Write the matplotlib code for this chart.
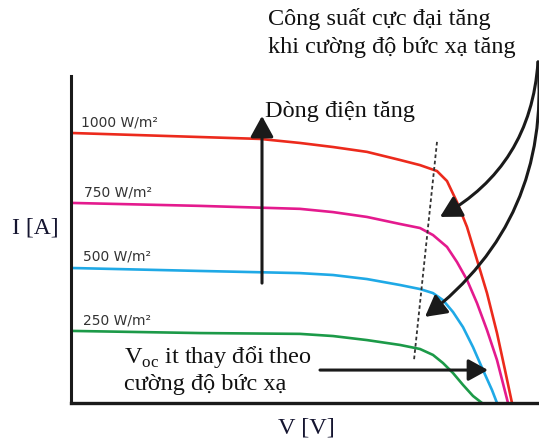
import matplotlib
matplotlib.use('Agg')
import matplotlib.pyplot as plt

plt.rcParams['font.family'] = ['Liberation Serif', 'DejaVu Serif']
plt.rcParams['mathtext.fontset'] = 'custom'
plt.rcParams['mathtext.rm'] = 'Liberation Serif'

# I-V curves (V in volts, I in amperes)
v_1000 = [0, 12.9, 18.9, 22.9, 26.2, 29.6, 32.9, 34.9, 36.6, 37.6, 38.6, 39.6, 40.6, 41.6, 42.6, 43.4, 44.1]
i_1000 = [10.0, 9.85, 9.78, 9.63, 9.48, 9.30, 9.0, 8.81, 8.59, 8.22, 7.44, 6.52, 5.30, 4.07, 2.59, 1.22, 0]

v_750 = [0, 12.9, 22.9, 26.2, 29.6, 32.9, 34.9, 36.2, 37.6, 38.6, 39.6, 40.6, 41.6, 42.6, 43.7]
i_750 = [7.41, 7.30, 7.19, 7.07, 6.89, 6.63, 6.48, 6.22, 5.78, 5.22, 4.56, 3.70, 2.70, 1.59, 0]

v_500 = [0, 12.9, 22.9, 26.2, 29.6, 32.9, 34.9, 36.2, 37.2, 38.2, 39.2, 40.2, 41.2, 42.1, 42.6]
i_500 = [5.0, 4.89, 4.81, 4.74, 4.59, 4.37, 4.22, 4.07, 3.81, 3.37, 2.81, 2.07, 1.22, 0.48, 0]

v_250 = [0, 12.9, 22.9, 26.2, 29.6, 32.9, 34.9, 36.2, 37.2, 38.2, 39.2, 40.2, 41.1]
i_250 = [2.67, 2.59, 2.56, 2.48, 2.33, 2.15, 2.0, 1.78, 1.48, 1.11, 0.67, 0.26, 0]

curve_labels = ['1000 W/m²', '750 W/m²', '500 W/m²', '250 W/m²']
curve_colors = ['#ec2a1c', '#e41a8e', '#1fa9e6', '#1c9a48']

# annotation anchors (V, I)
mpp_line = ([36.6, 34.3], [9.67, 1.59])
arrow_up = ((19.1, 4.44), (19.1, 10.63))
arrow_voc = ((24.9, 1.22), (41.7, 1.22))
arrow_src = (46.7, 12.63)
arrow_dst = [(36.9, 6.89), (35.4, 3.19)]

W, H = 539, 445
fig = plt.figure(figsize=(W / 100, H / 100), dpi=100)
ax = fig.add_axes([71 / W, 1 - 403 / H, (W - 71) / W, (403 - 76) / H])
ax.set_xlim(0, 46.8)
ax.set_ylim(0, 12.11)

curves = [(v_1000, i_1000), (v_750, i_750), (v_500, i_500), (v_250, i_250)]
for (v, i), c in zip(curves, curve_colors):
    ax.plot(v, i, color=c, lw=1.9, solid_joinstyle='round', solid_capstyle='butt')

# curve labels
label_pos = [(81, 126), (84, 197), (83, 260), (83, 325)]
for (px, py), lab in zip(label_pos, curve_labels):
    fig.text(px / W, 1 - py / H, lab, family='DejaVu Sans', fontsize=10,
             color='#333333', va='baseline', ha='left')

for side in ['top', 'right']:
    ax.spines[side].set_visible(False)
ax.spines['left'].set_linewidth(2.2)
ax.spines['bottom'].set_linewidth(2.4)
ax.spines['left'].set_color('#1a1a1a')
ax.spines['bottom'].set_color('#1a1a1a')
ax.set_xticks([])
ax.set_yticks([])

ax.plot(mpp_line[0], mpp_line[1], color='#333333', lw=1.3, linestyle=(0, (2, 1.5)))

head = '-|>,head_length=0.4,head_width=0.22'
ax.annotate('', xy=arrow_up[1], xytext=arrow_up[0],
            arrowprops=dict(arrowstyle=head, lw=2.2, color='#1a1a1a',
                            mutation_scale=32, shrinkA=0, shrinkB=0))
ax.annotate('', xy=arrow_voc[1], xytext=arrow_voc[0],
            arrowprops=dict(arrowstyle=head, lw=2.2, color='#1a1a1a',
                            mutation_scale=30, shrinkA=0, shrinkB=0))
for dst in arrow_dst:
    ax.annotate('', xy=dst, xytext=arrow_src, annotation_clip=False,
                arrowprops=dict(arrowstyle=head, lw=2.2, color='#1a1a1a',
                                mutation_scale=32, shrinkA=0, shrinkB=0,
                                connectionstyle='arc3,rad=-0.27'))

ax.set_ylabel('I [A]', rotation=0, fontsize=17, color='#151530', ha='center', va='center')
ax.yaxis.set_label_coords(-0.077, 0.535)
ax.set_xlabel('V [V]', fontsize=17.5, color='#151530', ha='center', va='center')
ax.xaxis.set_label_coords(0.502, -0.076)

txt = dict(fontsize=17.5, color='#111111', va='baseline', ha='left')
fig.text(268 / W, 1 - 25 / H, 'Công suất cực đại tăng', **txt)
fig.text(268 / W, 1 - 53 / H, 'khi cường độ bức xạ tăng', **txt)
fig.text(265 / W, 1 - 117 / H, 'Dòng điện tăng', **txt)
fig.text(124 / W, 1 - 363 / H, r'V$_{\rm oc}$ it thay đổi theo', **txt)
fig.text(124 / W, 1 - 390 / H, 'cường độ bức xạ', **txt)

fig.savefig('out.png', dpi=100)
